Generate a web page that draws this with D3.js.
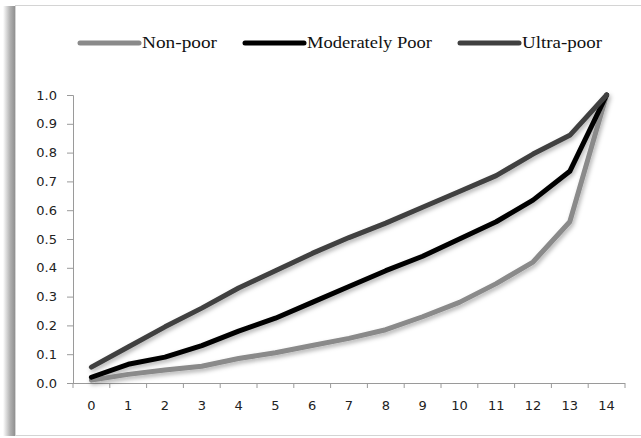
<!DOCTYPE html>
<html><head><meta charset="utf-8">
<script src="https://cdn.jsdelivr.net/npm/d3@7"></script>
<style>body{margin:0;background:#fff}svg{display:block}</style>
</head><body>
<svg id="c" width="641" height="438"></svg>
<script>
const categories = [0,1,2,3,4,5,6,7,8,9,10,11,12,13,14];
const seriesNames = ["Non-poor","Moderately Poor","Ultra-poor"];
const nonPoor = [0.01,0.03,0.045,0.058,0.085,0.105,0.13,0.155,0.185,0.23,0.28,0.345,0.42,0.56,1.0];
const moderatelyPoor = [0.02,0.065,0.09,0.13,0.18,0.225,0.28,0.335,0.39,0.44,0.5,0.56,0.635,0.735,1.0];
const ultraPoor = [0.055,0.125,0.195,0.26,0.33,0.39,0.45,0.505,0.555,0.61,0.665,0.72,0.795,0.86,1.0];
const yTicks = [0,0.1,0.2,0.3,0.4,0.5,0.6,0.7,0.8,0.9,1.0];
const colors = ["#8a8a8a","#000000","#404040"];

const svg = d3.select("#c");
const defs = svg.append("defs");
const g1 = defs.append("linearGradient").attr("id","ls").attr("x1","0").attr("x2","1");
g1.append("stop").attr("offset","0").attr("stop-color","#fff");
g1.append("stop").attr("offset","0.6").attr("stop-color","#b0b0b0");
g1.append("stop").attr("offset","1").attr("stop-color","#909090");
const f = defs.append("filter").attr("id","sh").attr("x","-10%").attr("y","-10%").attr("width","130%").attr("height","130%");
f.append("feDropShadow").attr("dx",1.5).attr("dy",2.5).attr("stdDeviation",2).attr("flood-color","#000").attr("flood-opacity",0.3);

// frame
svg.append("rect").attr("x",3).attr("y",6).attr("width",12).attr("height",430).attr("fill","url(#ls)");
svg.append("rect").attr("x",15.5).attr("y",5.5).attr("width",630).attr("height",430).attr("fill","#fff").attr("stroke","#d4d4d4");

const x = d3.scaleBand().domain(categories).range([73,625]);
const y = d3.scaleLinear().domain([0,1]).range([383,95]);

const yAxis = svg.append("g").attr("transform","translate(73,0)")
  .call(d3.axisLeft(y).tickValues(yTicks).tickFormat(d3.format(".1f")).tickSize(6).tickPadding(10));
const xAxis = svg.append("g").attr("transform","translate(0,383)")
  .call(d3.axisBottom(x).tickSize(0).tickPadding(18));
// tick marks between categories
xAxis.selectAll(".sep").data(d3.range(categories.length+1)).enter().append("line")
  .attr("x1",i=>73+i*x.bandwidth()).attr("x2",i=>73+i*x.bandwidth())
  .attr("y1",0).attr("y2",5).attr("stroke","#9a9a9a");
[yAxis,xAxis].forEach(a=>{
  a.select(".domain").attr("stroke","#9a9a9a");
  a.selectAll(".tick line").attr("stroke","#9a9a9a");
  a.selectAll("text").attr("font-family","DejaVu Sans").attr("font-size",13).attr("fill","#222");
});
xAxis.selectAll(".domain").attr("d","M73,0.5H625");

const data = [nonPoor, moderatelyPoor, ultraPoor];
const line = d3.line().x((d,i)=>x(categories[i])+x.bandwidth()/2).y(d=>y(d));
const lg = svg.append("g").attr("filter","url(#sh)");
data.forEach((s,k)=>{
  lg.append("path").datum(s).attr("d",line).attr("fill","none")
    .attr("stroke",colors[k]).attr("stroke-width",5).attr("stroke-linecap","round").attr("stroke-linejoin","round");
});

// legend
const legX = [80,245,460];
const legW = [75,125,80];
seriesNames.forEach((n,k)=>{
  svg.append("line").attr("x1",legX[k]).attr("x2",legX[k]+59).attr("y1",43).attr("y2",43)
    .attr("stroke",colors[k]).attr("stroke-width",5).attr("stroke-linecap","round");
  svg.append("text").attr("x",legX[k]+62).attr("y",48).text(n)
    .attr("font-family","Liberation Serif").attr("font-size",16).attr("fill","#111")
    .attr("textLength",legW[k]).attr("lengthAdjust","spacingAndGlyphs");
});
</script>
</body></html>
